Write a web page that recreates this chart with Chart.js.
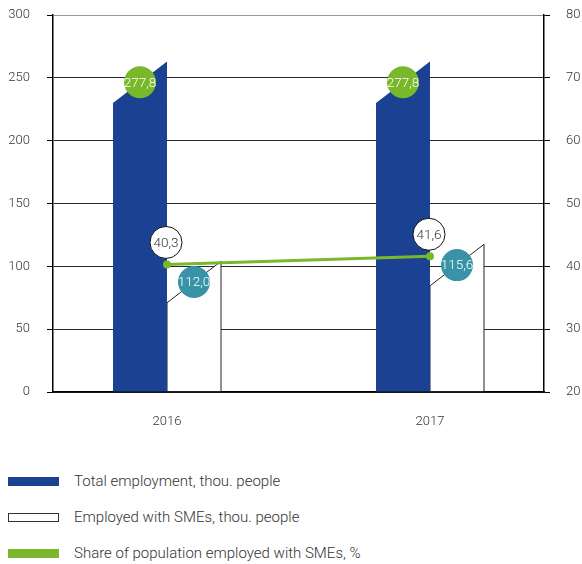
<!DOCTYPE html>
<html lang="en">
<head>
  <meta charset="UTF-8"/>
  <title>Employment with SMEs</title>
  <script src="https://cdn.jsdelivr.net/npm/chart.js"></script>
  <style>
    * { box-sizing: border-box; margin: 0; padding: 0; }
    body {
      background: #fff;
      font-family: Roboto, 'Noto Sans', sans-serif;
      width: 582px;
      height: 564px;
      overflow: hidden;
      position: relative;
    }
    #chart-container { position: absolute; left: 0; top: 0; width: 582px; height: 440px; }

    /* Legend */
    #legend { position: absolute; left: 8px; top: 463px; }
    .legend-item { display: flex; align-items: center; height: 36px; }
    .legend-box { width: 51px; height: 9px; margin-right: 15px; }
    .legend-text { font-size: 15px; font-weight: 300; color: #333; white-space: nowrap; }
  </style>
</head>
<body>
  <div id="chart-container">
    <canvas id="smeChart" width="582" height="440"></canvas>
  </div>
  <div id="legend"></div>

  <script>
    const years = ['2016', '2017'];
    // values printed in the badges
    const totalEmployment = [277.8, 277.8];
    const smeEmployment = [112.0, 115.6];
    const smeShare = [40.3, 41.6];
    // bar heights as drawn (right corner of the cut top), left axis units
    const totalBarHeight = [263, 263];
    const smeBarHeight = [104, 117.5];
    const cutDepth = 33; // how far the left corner of each top sits lower

    const BLUE = '#1a4192';
    const GREEN = '#78b82a';
    const TEAL = '#3893a7';
    const tickFont = { family: 'Roboto', size: 13, weight: '300' };

    const fmt = v => v.toFixed(1).replace('.', ',');

    // bars with a slanted (cut) top instead of the usual rectangle
    const slantedBars = {
      id: 'slantedBars',
      beforeDatasetDraw(chart, args) {
        const ds = chart.data.datasets[args.index];
        if (ds.type !== 'bar') return;
        const ctx = chart.ctx;
        const y = chart.scales.y;
        const drop = y.getPixelForValue(0) - y.getPixelForValue(cutDepth);
        args.meta.data.forEach(bar => {
          const left = bar.x - bar.width / 2;
          const right = bar.x + bar.width / 2;
          ctx.save();
          ctx.beginPath();
          ctx.moveTo(left, bar.base);
          ctx.lineTo(left, bar.y + drop);
          ctx.lineTo(right, bar.y);
          ctx.lineTo(right, bar.base);
          ctx.closePath();
          ctx.fillStyle = ds.backgroundColor;
          ctx.fill();
          if (ds.borderWidth) {
            ctx.lineWidth = ds.borderWidth;
            ctx.strokeStyle = ds.borderColor;
            ctx.stroke();
          }
          ctx.restore();
        });
        return false;
      }
    };

    function badge(ctx, x, y, fill, stroke, color, text) {
      ctx.save();
      ctx.beginPath();
      ctx.arc(x, y, 16, 0, Math.PI * 2);
      ctx.fillStyle = fill;
      ctx.fill();
      if (stroke) {
        ctx.lineWidth = 1;
        ctx.strokeStyle = stroke;
        ctx.stroke();
      }
      ctx.fillStyle = color;
      ctx.font = '300 13.5px Roboto';
      ctx.textAlign = 'center';
      ctx.textBaseline = 'middle';
      ctx.fillText(text, x, y + 1);
      ctx.restore();
    }

    // value badges on top of everything
    const badges = {
      id: 'badges',
      afterDatasetsDraw(chart) {
        const ctx = chart.ctx;
        const y = chart.scales.y;
        const half = (y.getPixelForValue(0) - y.getPixelForValue(cutDepth)) / 2;
        const totalMeta = chart.getDatasetMeta(0);
        const smeMeta = chart.getDatasetMeta(1);
        const shareMeta = chart.getDatasetMeta(2);
        years.forEach((yr, i) => {
          const t = totalMeta.data[i];
          badge(ctx, t.x, t.y + half, GREEN, null, '#fff', fmt(totalEmployment[i]));
          const s = smeMeta.data[i];
          badge(ctx, s.x, s.y + half, TEAL, null, '#fff', fmt(smeEmployment[i]));
          const p = shareMeta.data[i];
          badge(ctx, p.x - 1, p.y - 22, '#fff', '#111', '#333', fmt(smeShare[i]));
        });
      }
    };

    // fixed axis boxes so the plot area lands where the original has it
    const fitLeft = s => { s.width = 45; s.paddingTop = 15; s.paddingBottom = 0; };
    const fitRight = s => { s.width = 37; s.paddingTop = 15; s.paddingBottom = 0; };
    const fitBottom = s => { s.height = 38; s.paddingLeft = 0; s.paddingRight = 0; };

    const ctx = document.getElementById('smeChart').getContext('2d');
    const chart = new Chart(ctx, {
      type: 'bar',
      data: {
        datasets: [
          {
            type: 'bar',
            label: 'Total employment, thou. people',
            data: totalBarHeight.map((v, i) => ({ x: i, y: v })),
            backgroundColor: BLUE,
            borderWidth: 0,
            barThickness: 54,
            order: 2
          },
          {
            type: 'bar',
            label: 'Employed with SMEs, thou. people',
            data: smeBarHeight.map((v, i) => ({ x: i, y: v })),
            backgroundColor: '#fff',
            borderColor: '#222',
            borderWidth: 1,
            barThickness: 54,
            order: 2
          },
          {
            type: 'line',
            label: 'Share of population employed with SMEs, %',
            data: smeShare.map((v, i) => ({ x: i, y: v })),
            yAxisID: 'y1',
            borderColor: GREEN,
            backgroundColor: GREEN,
            borderWidth: 3,
            pointRadius: 4,
            pointBorderWidth: 0,
            order: 1
          }
        ]
      },
      options: {
        responsive: false,
        animation: false,
        layout: { padding: { top: 0, left: 8, right: 1, bottom: 10 } },
        scales: {
          x: {
            type: 'linear',
            offset: false,
            min: -0.4335,
            max: 1.4335,
            afterBuildTicks: s => { s.ticks = years.map((_, i) => ({ value: i })); },
            afterFit: fitBottom,
            ticks: { callback: v => years[v], padding: 22, font: tickFont, color: '#333', maxRotation: 0 },
            grid: { display: false, drawTicks: false, offset: false },
            border: { color: '#000', width: 1.5 }
          },
          y: {
            position: 'left',
            min: 0,
            max: 300,
            afterFit: fitLeft,
            ticks: { stepSize: 50, padding: 17, font: tickFont, color: '#333' },
            grid: {
              color: c => (c.tick && c.tick.value === 300 ? '#999' : '#2a2a2a'),
              tickColor: '#000',
              tickLength: 6
            },
            border: { color: '#000', width: 1.5 }
          },
          y1: {
            position: 'right',
            min: 20,
            max: 80,
            afterFit: fitRight,
            ticks: { stepSize: 10, padding: 16, font: tickFont, color: '#333' },
            grid: { drawOnChartArea: false, color: '#000', tickLength: 6 },
            border: { color: '#000', width: 1.5 }
          }
        },
        plugins: {
          legend: { display: false },
          tooltip: { enabled: false }
        }
      },
      plugins: [slantedBars, badges]
    });

    // legend below the chart
    const legend = document.getElementById('legend');
    chart.data.datasets.forEach(ds => {
      const item = document.createElement('div');
      item.className = 'legend-item';
      const box = document.createElement('span');
      box.className = 'legend-box';
      box.style.background = ds.type === 'line' ? ds.borderColor : ds.backgroundColor;
      if (ds.type === 'bar' && ds.borderWidth) box.style.border = '1px solid #333';
      const text = document.createElement('span');
      text.className = 'legend-text';
      text.textContent = ds.label;
      item.appendChild(box);
      item.appendChild(text);
      legend.appendChild(item);
    });
  </script>
</body>
</html>
